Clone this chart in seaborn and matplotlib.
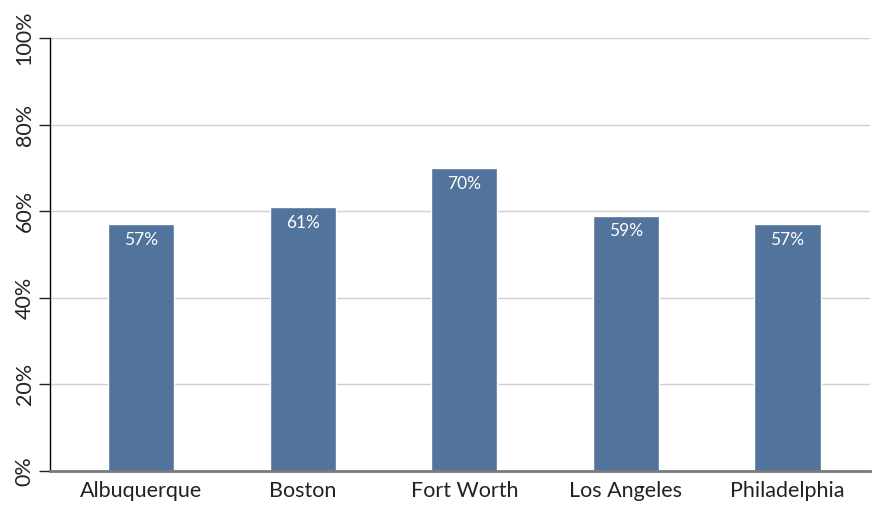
#!/usr/bin/env python3
"""Bar chart of share by city."""

import pandas as pd
import matplotlib.pyplot as plt
import matplotlib.ticker as mtick
import seaborn as sns

cities = ["Albuquerque", "Boston", "Fort Worth", "Los Angeles", "Philadelphia"]
shares = [57, 61, 70, 59, 57]

sns.set_style("white")
plt.rcParams['font.family'] = ['Lato', 'DejaVu Sans']

df = pd.DataFrame({"city": cities, "share": shares})

fig = plt.figure(figsize=(8.75, 5.05), dpi=100)
ax = fig.add_axes([50 / 875, 34 / 505, 820 / 875, 433 / 505])

sns.barplot(data=df, x="city", y="share", color="#52739B", width=0.41,
            saturation=1, ax=ax, zorder=3)

ax.set_ylim(0, 100)
ax.set_xlim(-0.563, 4.51)
ax.set_yticks(range(0, 101, 20))
ax.yaxis.set_major_formatter(mtick.FuncFormatter(lambda v, _: f"{v:.0f}%"))
for lbl in ax.get_yticklabels():
    lbl.set_rotation(90)
    lbl.set_va("center")
ax.tick_params(axis="y", labelsize=15.5, colors="#222222", length=8, width=1,
               direction="out", left=True, pad=3)
ax.tick_params(axis="x", labelsize=15.5, colors="#222222", length=0, pad=7)
ax.grid(axis="y", color="#d0d0d0", linewidth=1, zorder=0)
ax.set_xlabel("")
ax.set_ylabel("")

for s in ["top", "right"]:
    ax.spines[s].set_visible(False)
ax.spines["left"].set_color("#000000")
ax.spines["left"].set_linewidth(1)
ax.spines["bottom"].set_color("#7a7a7a")
ax.spines["bottom"].set_linewidth(2)
ax.spines["bottom"].set_zorder(4)

for i, v in enumerate(shares):
    ax.text(i, v - 1.8, f"{v}%", ha="center", va="top", color="white",
            fontsize=12.5, zorder=5)

plt.savefig("out.png", dpi=100)
